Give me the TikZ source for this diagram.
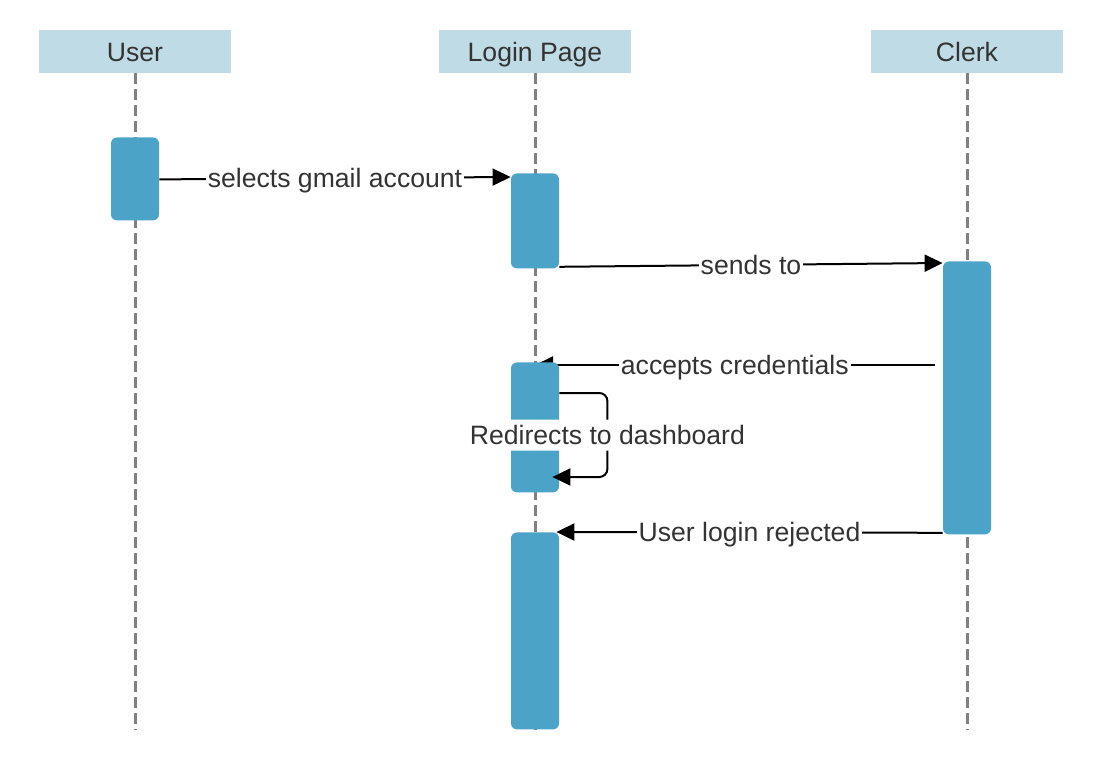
\documentclass[tikz,border=0pt]{standalone}
\usepackage{fontspec}
\setmainfont{Liberation Sans}
\usepackage{tikz}
\usetikzlibrary{arrows.meta,backgrounds}

\definecolor{headblue}{HTML}{BFDCE6}
\definecolor{barblue}{HTML}{4BA3C7}
\definecolor{txtgray}{HTML}{333333}

\tikzset{
    head/.style={fill=headblue, text=txtgray, minimum width=96pt, minimum height=21.5pt, inner sep=0pt, text height=10pt, text depth=0pt, font=\fontsize{13.3}{15}\selectfont},
    act/.style={fill=barblue, rounded corners=3pt, minimum width=24pt, inner sep=0pt, anchor=north},
    lifeline/.style={draw=gray, line width=1.5pt, dash pattern=on 5.5pt off 2.5pt},
    msg/.style={draw=black, line width=1pt, -{Triangle[length=9pt,width=8.5pt]}},
    lbl/.style={fill=white, text=txtgray, inner sep=1pt, text height=11.5pt, text depth=2pt, font=\fontsize{13.3}{15}\selectfont}
}

\begin{document}
\begin{tikzpicture}[x=0.5pt, y=-0.5pt]
    \useasboundingbox (0,0) rectangle (1116,776);
    \coordinate (bottom) at (0,730);

    \node[head] (user) at (135,51.5) {User};
    \node[head] (login) at (535,51.5) {Login Page};
    \node[head] (clerk) at (967,51.5) {Clerk};

    \node[act, minimum height=41.5pt] (u_act) at (135,137) {};
    \node[act, minimum height=47.5pt] (l_act1) at (535,173) {};
    \node[act, minimum height=65pt] (l_act2) at (535,362) {};
    \node[act, minimum height=98.5pt] (l_act3) at (535,532) {};
    \node[act, minimum height=136.5pt] (c_act) at (967,261) {};

    \begin{scope}[on background layer]
        \draw[lifeline] (user.south) -- (user.south |- bottom);
        \draw[lifeline] (login.south) -- (login.south |- bottom);
        \draw[lifeline] (clerk.south) -- (clerk.south |- bottom);
        \draw[msg] ([shift={(-8,104)}]c_act.north west) -- node[lbl] {accepts credentials} ([shift={(0,3)}]l_act2.north);
    \end{scope}

    \draw[msg] ([shift={(0,0.5)}]u_act.east) -- node[lbl] {selects gmail account} ([shift={(0,4)}]l_act1.north west);
    \draw[msg] ([shift={(0,-2)}]l_act1.south east) -- node[lbl] {sends to} ([shift={(0,2)}]c_act.north west);
    \draw[msg, rounded corners=4pt] ([shift={(0,31)}]l_act2.north east) -- ++(48,0) -- ++(0,84) node[midway, lbl] {Redirects to dashboard} -- ([shift={(-7,115)}]l_act2.north east);
    \draw[msg] ([shift={(0,-2)}]c_act.south west) -- node[lbl] {User login rejected} ([shift={(-3,0)}]l_act3.north east);

\end{tikzpicture}
\end{document}
